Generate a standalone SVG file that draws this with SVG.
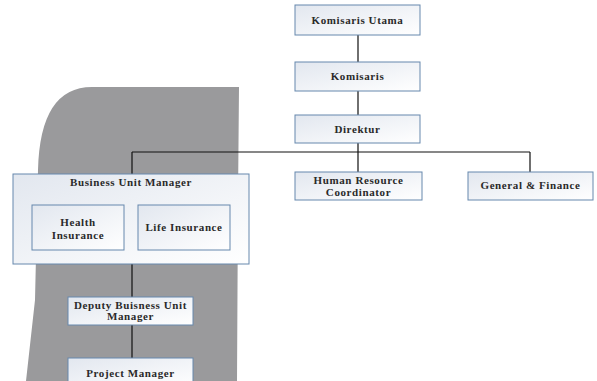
<svg xmlns="http://www.w3.org/2000/svg" width="597" height="381" viewBox="0 0 597 381">
<defs>
<linearGradient id="g" x1="0" y1="0" x2="1" y2="1">
<stop offset="0" stop-color="#e2e7ef"/>
<stop offset="1" stop-color="#ffffff"/>
</linearGradient>
<style>
.box{fill:url(#g);stroke:#6688ad;stroke-width:1}
.t{font-family:"Liberation Serif","Times New Roman",serif;font-size:11px;font-weight:bold;letter-spacing:0.6px;fill:#2a2a2a;text-anchor:middle}
.c{stroke:#111;stroke-width:1.2;fill:none}
</style>
</defs>
<rect width="597" height="381" fill="#fff"/>
<path d="M92 87 L239 87 L238 200 L237 381 L26 381 L35 300 L38 170 Q40 87 92 87 Z" fill="#9a9a9c"/>
<g id="connectors">
<path class="c" d="M358 35V62M358 91V115M358 143V152M132 152H530M132 152V174M358 152V172M530 152V172M132 264V297M132 325V358"/>
</g>
<g id="komisaris-utama"><rect class="box" x="295" y="5" width="125" height="30"/><text class="t" x="357.5" y="24">Komisaris Utama</text></g>
<g id="komisaris"><rect class="box" x="295" y="62" width="125" height="29"/><text class="t" x="357.5" y="80">Komisaris</text></g>
<g id="direktur"><rect class="box" x="295" y="115" width="125" height="28"/><text class="t" x="357.5" y="133">Direktur</text></g>
<g id="business-unit-manager"><rect class="box" x="13" y="174" width="236" height="90"/><text class="t" x="131" y="186">Business Unit Manager</text></g>
<g id="health-insurance"><rect class="box" x="32" y="205" width="92" height="45"/><text class="t" x="78" y="226">Health</text><text class="t" x="78" y="239">Insurance</text></g>
<g id="life-insurance"><rect class="box" x="138" y="205" width="92" height="45"/><text class="t" x="184" y="231">Life Insurance</text></g>
<g id="human-resource"><rect class="box" x="295" y="172" width="127" height="28"/><text class="t" x="358.5" y="184">Human Resource</text><text class="t" x="358.5" y="196">Coordinator</text></g>
<g id="general-finance"><rect class="box" x="468" y="172" width="125" height="28"/><text class="t" x="530.5" y="189">General &amp; Finance</text></g>
<g id="deputy"><rect class="box" x="68" y="297" width="125" height="28"/><text class="t" x="130.5" y="309">Deputy Buisness Unit</text><text class="t" x="130.5" y="320">Manager</text></g>
<g id="project-manager"><rect class="box" x="68" y="358" width="125" height="30"/><text class="t" x="130.5" y="377">Project Manager</text></g>
</svg>
